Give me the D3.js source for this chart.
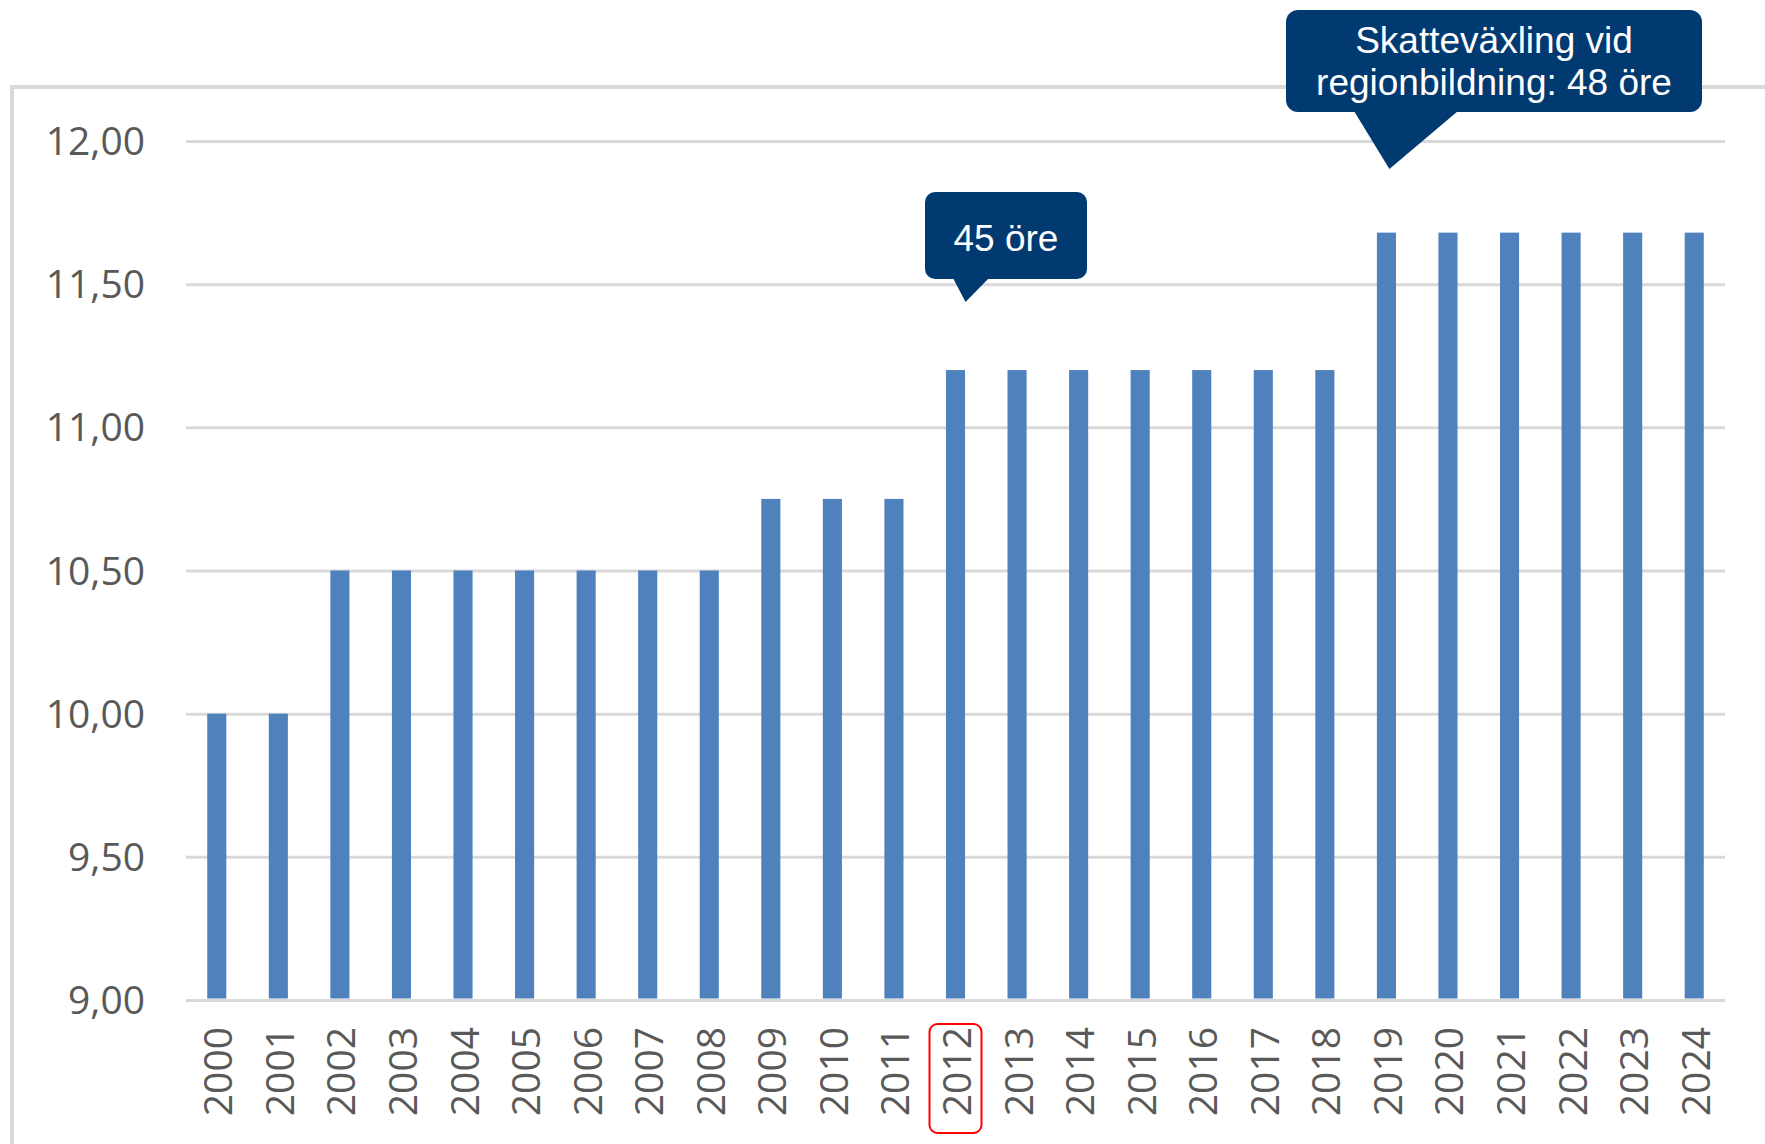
<!DOCTYPE html>
<html><head><meta charset="utf-8">
<script src="https://cdn.jsdelivr.net/npm/d3@7"></script>
<style>html,body{margin:0;padding:0;background:#fff;}svg{display:block;}</style>
</head><body>
<svg id="chart" width="1765" height="1144"></svg>
<script>
const years = ["2000","2001","2002","2003","2004","2005","2006","2007","2008","2009","2010","2011","2012","2013","2014","2015","2016","2017","2018","2019","2020","2021","2022","2023","2024"];
const rates = [10.00,10.00,10.50,10.50,10.50,10.50,10.50,10.50,10.50,10.75,10.75,10.75,11.20,11.20,11.20,11.20,11.20,11.20,11.20,11.68,11.68,11.68,11.68,11.68,11.68];
const yTicks = [9.0,9.5,10.0,10.5,11.0,11.5,12.0];
const callout1Lines = ["45 öre"];
const callout1Year = "2012";
const callout2Lines = ["Skatteväxling vid","regionbildning: 48 öre"];
const callout2Year = "2019";
const highlightYear = "2012";

(function(){
const svg = d3.select("#chart");
const pLeft = 186, pRight = 1725, pTop = 141, pBottom = 1000;

// frame
svg.append("path").attr("d", `M12,1144 V87 H1765`).attr("fill","none")
  .attr("stroke","#d9d9d9").attr("stroke-width",4);

const x = d3.scaleBand().domain(years).range([pLeft,pRight]).paddingInner(0.69).paddingOuter(0.345);
const y = d3.scaleLinear().domain([9,12]).range([pBottom,pTop]);
const fmt = v => d3.format(".2f")(v).replace(".",",");

const yAxis = svg.append("g").attr("transform",`translate(${pLeft},0)`)
  .call(d3.axisLeft(y).tickValues(yTicks).tickSize(-(pRight-pLeft)).tickPadding(41).tickFormat(fmt));
yAxis.select(".domain").remove();
yAxis.selectAll(".tick line").attr("stroke","#d9d9d9").attr("stroke-width",3);
yAxis.selectAll(".tick text").attr("fill","#595959").attr("font-family","'Open Sans', sans-serif")
  .attr("font-size",39).attr("dy","0.35em");

svg.append("g").selectAll("rect").data(years).join("rect")
  .attr("x", d => x(d)).attr("width", x.bandwidth())
  .attr("y", (d,i) => y(rates[i])).attr("height", (d,i) => y(9) - y(rates[i]) - 1.5)
  .attr("fill","#4f81bd");

const xAxis = svg.append("g").attr("transform",`translate(0,${pBottom})`)
  .call(d3.axisBottom(x).tickSize(0).tickPadding(0));
xAxis.select(".domain").remove();
xAxis.selectAll(".tick text").attr("fill","#595959").attr("font-family","'Open Sans', sans-serif")
  .attr("font-size",39).attr("text-anchor","end").attr("dy",null)
  .attr("transform","translate(0,27) rotate(-90)").attr("y",0).attr("x",0).attr("dominant-baseline","central");

// highlight box
const hx = x(highlightYear) + x.bandwidth()/2;
svg.append("rect").attr("x", hx-26).attr("y",1024).attr("width",52).attr("height",109)
  .attr("rx",8).attr("fill","none").attr("stroke","#ff0000").attr("stroke-width",2);

const navy = "#003a70";
// callout 1
{
  const cx = x(callout1Year) + x.bandwidth()/2;
  const g = svg.append("g");
  g.append("rect").attr("x",925).attr("y",192).attr("width",162).attr("height",87).attr("rx",10).attr("fill",navy);
  g.append("path").attr("d",`M953,278 L${cx+10},302 L989,278 Z`).attr("fill",navy);
  g.selectAll("text").data(callout1Lines).join("text").attr("x",1006).attr("y",251)
    .attr("text-anchor","middle").attr("fill","#fff").attr("font-family","'Liberation Sans', Arial, sans-serif")
    .attr("font-size",37).text(d=>d);
}
// callout 2
{
  const cx = x(callout2Year) + x.bandwidth()/2;
  const g = svg.append("g");
  g.append("rect").attr("x",1286).attr("y",10).attr("width",416).attr("height",102).attr("rx",12).attr("fill",navy);
  g.append("path").attr("d",`M1354,111 L${cx+3},169 L1458,111 Z`).attr("fill",navy);
  g.selectAll("text").data(callout2Lines).join("text").attr("x",1494).attr("y",(d,i)=>53+i*42)
    .attr("text-anchor","middle").attr("fill","#fff").attr("font-family","'Liberation Sans', Arial, sans-serif")
    .attr("font-size",37).text(d=>d);
}
})();
</script>
</body></html>
